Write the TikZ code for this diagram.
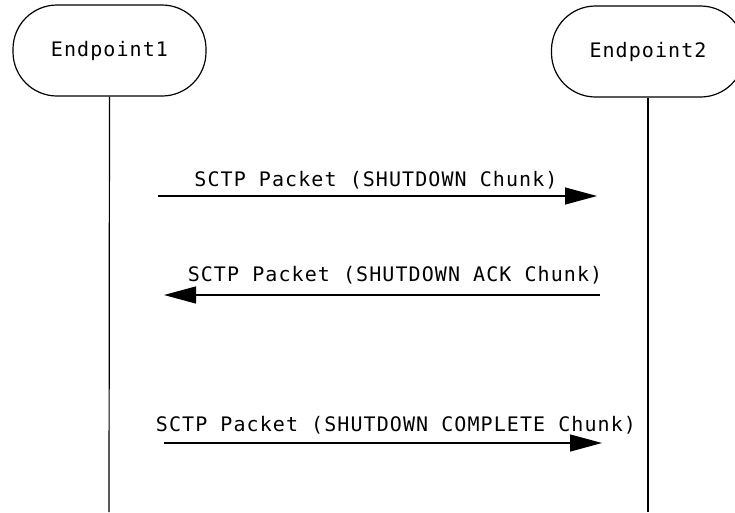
\documentclass[tikz,border=0pt]{standalone}
\usepackage{fontspec}
\newfontfamily\monofont[LetterSpace=5.4]{DejaVu Sans Mono}
\usetikzlibrary{arrows.meta}
\begin{document}
\begin{tikzpicture}[x=1pt,y=-1pt,
  every node/.style={font=\monofont\fontsize{20}{23}\selectfont, text=black},
  endpt/.style={draw, line width=1.2pt, rounded corners=44pt, minimum width=193pt, minimum height=91pt, inner sep=0pt},
  life/.style={line width=1.2pt},
  msg/.style={line width=1.2pt, -{Triangle[length=32pt,width=17pt]}},
  lbl/.style={anchor=base, inner sep=0pt}]
\useasboundingbox (0,0) rectangle (735,512);
\node[endpt] (e1) at (109.5,50.5) {Endpoint1};
\node[endpt] (e2) at (648,51.5) {Endpoint2};
\coordinate (l1) at (109,512);
\coordinate (l2) at (648,512);
\draw[life] (e1.south) -- (l1);
\draw[life] (e2.south) -- (l2);
% message 1
\coordinate (a1s) at (158,196);
\coordinate (a1e) at (597,196);
\draw[msg] (a1s) -- (a1e);
\node[lbl] (t1) at (376,186) {SCTP Packet (SHUTDOWN Chunk)};
% message 2
\coordinate (a2s) at (600,295);
\coordinate (a2e) at (164,295);
\draw[msg] (a2s) -- (a2e);
\node[lbl] (t2) at (395,281) {SCTP Packet (SHUTDOWN ACK Chunk)};
% message 3
\coordinate (a3s) at (164,443);
\coordinate (a3e) at (602,443);
\draw[msg] (a3s) -- (a3e);
\node[lbl] (t3) at (396,431) {SCTP Packet (SHUTDOWN COMPLETE Chunk)};
\end{tikzpicture}
\end{document}
